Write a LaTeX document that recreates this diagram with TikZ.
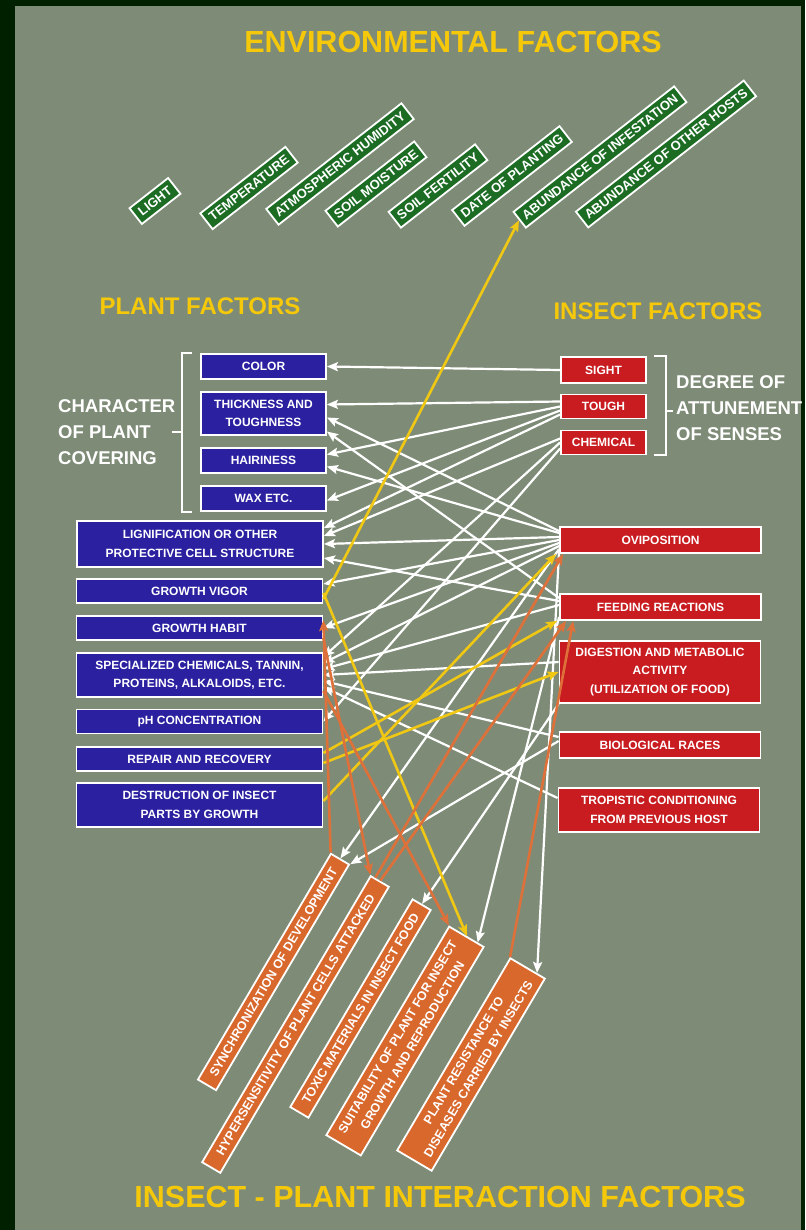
\documentclass[tikz,border=0pt]{standalone}
\usepackage{fontspec}
\setmainfont{Liberation Sans}
\usetikzlibrary{arrows.meta,calc}

\definecolor{slide}{RGB}{126,140,119}
\definecolor{slideedge}{RGB}{0,32,0}
\definecolor{plantblue}{RGB}{42,32,160}
\definecolor{insectred}{RGB}{200,28,32}
\definecolor{envgreen}{RGB}{28,108,36}
\definecolor{interorange}{RGB}{216,104,44}
\definecolor{titleyellow}{RGB}{245,200,10}
\definecolor{arrowyellow}{RGB}{240,200,20}
\definecolor{arroworange}{RGB}{222,112,58}

\begin{document}
\begin{tikzpicture}[x=1pt,y=-1pt,
    box/.style={draw=white,line width=1.8pt,text=white,align=center,inner sep=2pt,
      font=\bfseries\fontsize{12}{18.5}\selectfont},
    coverbox/.style={box,fill=plantblue,minimum width=125pt,minimum height=25pt},
    plantbox/.style={box,fill=plantblue,minimum width=246pt,minimum height=24pt},
    sensebox/.style={box,fill=insectred,minimum width=85pt,minimum height=24pt},
    insectbox/.style={box,fill=insectred,minimum width=201pt,minimum height=26pt},
    envbox/.style={box,fill=envgreen,rotate=38,minimum height=20pt,inner xsep=5pt,
      font=\bfseries\fontsize{13}{15}\selectfont},
    interbox/.style={box,fill=interorange,rotate=59.5,
      font=\bfseries\fontsize{12.5}{17}\selectfont},
    heading/.style={text=titleyellow,font=\bfseries\fontsize{30.5}{32}\selectfont},
    subheading/.style={text=titleyellow,font=\bfseries\fontsize{24}{26}\selectfont},
    sidelabel/.style={text=white,align=left,inner sep=0pt,anchor=west,
      font=\bfseries\fontsize{18.5}{26}\selectfont},
    bracket/.style={draw=white,line width=2pt},
    link/.style={-{Stealth[length=11pt,width=9pt,inset=2pt]},draw=white,line width=2.2pt},
    ylink/.style={link,draw=arrowyellow,line width=2.6pt},
    olink/.style={link,draw=arroworange,line width=2.6pt}]

  \useasboundingbox (0,0) rectangle (805,1230);
  \fill[slideedge] (0,0) rectangle (805,1230);
  \fill[slide] (15,6) rectangle (801,1230);

  % titles
  \node[heading] (envtitle) at (453,42) {ENVIRONMENTAL FACTORS};
  \node[heading] (inttitle) at (440,1197) {INSECT - PLANT INTERACTION FACTORS};
  \node[subheading] (planttitle) at (200,306) {PLANT FACTORS};
  \node[subheading] (insecttitle) at (658,311) {INSECT FACTORS};

  % environmental factors
  \node[envbox] (light) at (155,201) {LIGHT};
  \node[envbox] (temp) at (249,188) {TEMPERATURE};
  \node[envbox] (humid) at (340,164) {ATMOSPHERIC HUMIDITY};
  \node[envbox] (moist) at (376,184) {SOIL MOISTURE};
  \node[envbox] (fert) at (438,186) {SOIL FERTILITY};
  \node[envbox] (date) at (512,176) {DATE OF PLANTING};
  \node[envbox] (infest) at (600,157) {ABUNDANCE OF INFESTATION};
  \node[envbox] (hosts) at (666,154) {ABUNDANCE OF OTHER HOSTS};

  % plant factors
  \node[coverbox] (color) at (263.5,366.5) {COLOR};
  \node[coverbox,minimum height=43pt] (thick) at (263.5,413.5) {THICKNESS AND\\TOUGHNESS};
  \node[coverbox] (hair) at (263.5,460.5) {HAIRINESS};
  \node[coverbox] (wax) at (263.5,498.5) {WAX ETC.};
  \node[plantbox,minimum height=46pt] (lign) at (200,544) {LIGNIFICATION OR OTHER\\PROTECTIVE CELL STRUCTURE};
  \node[plantbox] (vigor) at (199.5,591) {GROWTH VIGOR};
  \node[plantbox] (habit) at (199.5,628) {GROWTH HABIT};
  \node[plantbox,minimum height=44pt] (chem) at (199.5,675) {SPECIALIZED CHEMICALS, TANNIN,\\PROTEINS, ALKALOIDS, ETC.};
  \node[plantbox] (ph) at (199.5,721.5) {pH CONCENTRATION};
  \node[plantbox] (repair) at (199.5,759) {REPAIR AND RECOVERY};
  \node[plantbox,minimum height=44pt] (destr) at (199.5,805) {DESTRUCTION OF INSECT\\PARTS BY GROWTH};

  \node[sidelabel] (cover) at (58,432) {CHARACTER\\OF PLANT\\COVERING};
  \draw[bracket] ([xshift=-8pt]color.north west) -- ++(-10,0) |- ([xshift=-8pt]wax.south west);
  \draw[bracket] (183,432) -- ++(-11,0);

  % insect factors
  \node[sensebox,minimum height=26pt] (sight) at (603.5,370) {SIGHT};
  \node[sensebox] (touch) at (603.5,406.5) {TOUGH};
  \node[sensebox] (chemical) at (603.5,442.5) {CHEMICAL};
  \node[insectbox] (ovi) at (660.5,540) {OVIPOSITION};
  \node[insectbox] (feed) at (660.5,607) {FEEDING REACTIONS};
  \node[insectbox,minimum height=62pt] (digest) at (660,672) {DIGESTION AND METABOLIC\\ACTIVITY\\(UTILIZATION OF FOOD)};
  \node[insectbox] (races) at (660,745) {BIOLOGICAL RACES};
  \node[insectbox,minimum height=44pt] (tropic) at (659,810) {TROPISTIC CONDITIONING\\FROM PREVIOUS HOST};

  \node[sidelabel] (senses) at (676,408) {DEGREE OF\\ATTUNEMENT\\OF SENSES};
  \draw[bracket] ([xshift=7pt]sight.north east) -- ++(12,0) |- ([xshift=7pt]chemical.south east);
  \draw[bracket] (665,411) -- ++(8,0);

  % insect - plant interaction factors
  \node[interbox,minimum width=262pt,minimum height=21pt] (sync) at (273.5,972) {SYNCHRONIZATION OF DEVELOPMENT};
  \node[interbox,minimum width=332pt,minimum height=21pt] (hyper) at (295.5,1024.5) {HYPERSENSITIVITY OF PLANT CELLS ATTACKED};
  \node[interbox,minimum width=241pt,minimum height=21pt] (toxic) at (360.5,1008.5) {TOXIC MATERIALS IN INSECT FOOD};
  \node[interbox,minimum width=242pt,minimum height=40pt] (suit) at (405,1041) {SUITABILITY OF PLANT FOR INSECT\\GROWTH AND REPRODUCTION};
  \node[interbox,minimum width=223pt,minimum height=40pt] (resist) at (471,1064.5) {PLANT RESISTANCE TO\\DISEASES CARRIED BY INSECTS};

  % senses to plant
  \draw[link] (sight.west) -- (color.east);
  \draw[link] ([yshift=5pt]touch.west) -- ([yshift=9pt]thick.east);
  \draw[link] (touch.west) -- ([yshift=6pt]hair.east);
  \draw[link] ([yshift=-4pt]touch.west) -- ([yshift=-2pt]wax.east);
  \draw[link] ([yshift=-8pt]touch.west) -- ([yshift=16pt]lign.east);
  \draw[link] ([yshift=4pt]chemical.west) -- ([yshift=8pt]lign.east);
  \draw[link] (chemical.west) -- ([yshift=18pt]chem.east);
  \draw[link] ([yshift=-6pt]chemical.west) -- (ph.east);
  % oviposition and feeding to plant
  \draw[link] ([yshift=9pt]ovi.west) -- ([yshift=-4pt]thick.east);
  \draw[link] ([yshift=7pt]ovi.west) -- ([yshift=-6pt]hair.east);
  \draw[link] ([yshift=3pt]ovi.west) -- (lign.east);
  \draw[link] (ovi.west) -- ([yshift=7pt]vigor.east);
  \draw[link] ([yshift=-3pt]ovi.west) -- (habit.east);
  \draw[link] ([yshift=-6pt]ovi.west) -- ([yshift=12pt]chem.east);
  \draw[link] ([yshift=9pt]feed.west) -- ([yshift=-18pt]thick.east);
  \draw[link] ([yshift=6pt]feed.west) -- ([yshift=-14pt]lign.east);
  \draw[link] ([yshift=2pt]feed.west) -- ([yshift=6pt]chem.east);
  \draw[link] ([yshift=10pt]digest.west) -- (chem.east);
  \draw[link] ([yshift=8pt]races.west) -- ([yshift=-6pt]chem.east);
  \draw[link] ([yshift=12pt]tropic.west) -- ([yshift=-12pt]chem.east);
  % insect to interaction
  \draw[link] ([yshift=-9pt]ovi.west) -- (sync.east);
  \draw[link] ([yshift=4pt]races.west) -- (sync.south east);
  \draw[link] (digest.south west) -- (toxic.east);
  \draw[link] ([yshift=-10pt]feed.west) -- ($(suit.east)!0.6!(suit.south east)$);
  \draw[link] ([yshift=-11pt]ovi.west) -- ($(resist.east)!0.5!(resist.south east)$);

  % yellow
  \draw[ylink] ([yshift=-8pt]vigor.east) -- (infest.west);
  \draw[ylink] ([yshift=-2pt]vigor.east) -- (suit.east);
  \draw[ylink] ([yshift=4pt]destr.east) -- ([xshift=-3pt]ovi.south west);
  \draw[ylink] ([yshift=6pt]repair.east) -- ([xshift=-2pt]feed.south west);
  \draw[ylink] ([yshift=-4pt]repair.east) -- (digest.west);

  % orange
  \draw[olink] ($(hyper.east)!0.5!(hyper.north east)$) -- ([xshift=4pt]ovi.south west);
  \draw[olink] (hyper.east) -- ([xshift=7pt]feed.south west);
  \draw[olink] (resist.north east) -- ([xshift=14pt]feed.south west);
  \draw[olink] (sync.north east) -- ([yshift=8pt]habit.east);
  \draw[olink] ([yshift=-10pt]habit.east) -- (hyper.north east);
  \draw[olink] ([yshift=-16pt]chem.east) -- (suit.north east);
\end{tikzpicture}
\end{document}
